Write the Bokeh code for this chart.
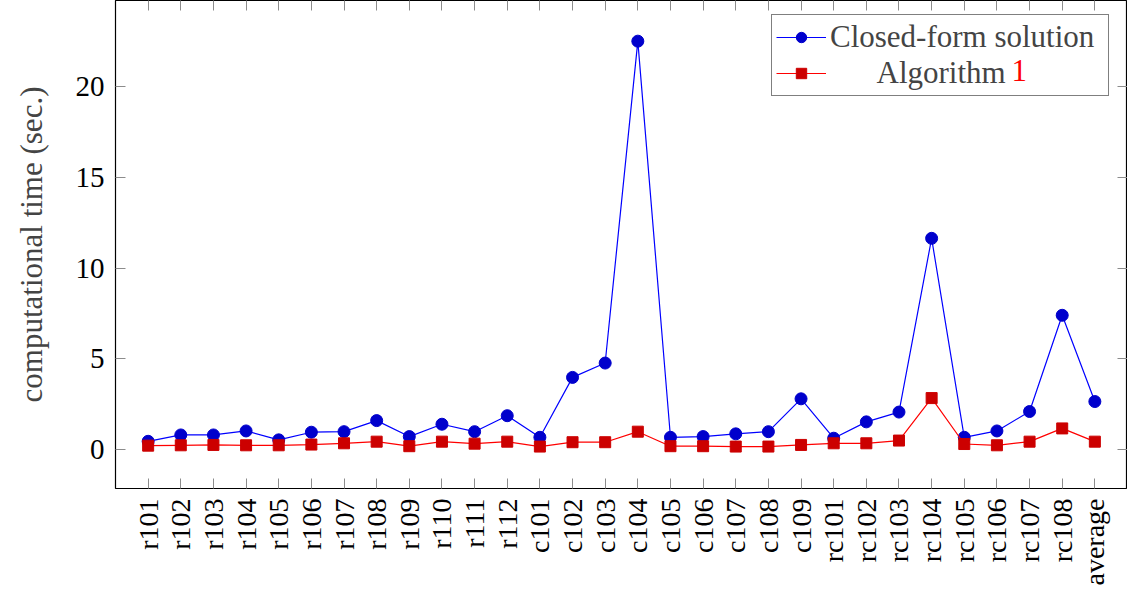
import numpy as np
from bokeh.plotting import figure
from bokeh.models import Range1d, FixedTicker, LinearAxis, Legend, LegendItem, Label
from bokeh.embed import file_html
from bokeh.resources import INLINE

categories = ["r101", "r102", "r103", "r104", "r105", "r106", "r107", "r108", "r109",
              "r110", "r111", "r112", "c101", "c102", "c103", "c104", "c105", "c106",
              "c107", "c108", "c109", "rc101", "rc102", "rc103", "rc104", "rc105",
              "rc106", "rc107", "rc108", "average"]
closed_form = [0.46, 0.81, 0.81, 1.03, 0.54, 0.96, 0.99, 1.60, 0.72, 1.40, 0.99, 1.87,
               0.68, 3.98, 4.77, 22.5, 0.68, 0.72, 0.87, 0.99, 2.80,
               0.63, 1.53, 2.07, 11.64, 0.68, 1.03, 2.10, 7.40, 2.65]
algorithm = [0.22, 0.24, 0.26, 0.24, 0.24, 0.28, 0.35, 0.44, 0.19, 0.44, 0.33, 0.44,
             0.17, 0.41, 0.41, 0.99, 0.19, 0.19, 0.17, 0.17, 0.26,
             0.35, 0.35, 0.50, 2.84, 0.31, 0.24, 0.44, 1.17, 0.44]
y_ticks = [0, 5, 10, 15, 20]
series_names = ["Closed-form solution", "Algorithm"]
ref_number = "1"

FONT = "Liberation Serif"
TICK_COLOR = "#8c8c8c"

xs = list(range(len(categories)))

p = figure(width=1127, height=588, output_backend="svg", toolbar_location=None,
           x_range=Range1d(-1, len(categories)), y_range=Range1d(-2.14, 24.74),
           min_border_left=115, min_border_right=0, min_border_top=0, min_border_bottom=0)

p.grid.visible = False
p.outline_line_color = "black"
p.outline_line_width = 1.2
p.background_fill_color = "white"
p.border_fill_color = "white"

l1 = p.line(xs, closed_form, line_color="#0000ff", line_width=1.2)
s1 = p.scatter(xs, closed_form, marker="circle", size=12, fill_color="#0000cc",
               line_color="#0000cc")
l2 = p.line(xs, algorithm, line_color="#ff0000", line_width=1.2)
s2 = p.scatter(xs, algorithm, marker="square", size=11, fill_color="#cc0000",
               line_color="#cc0000")

xt = FixedTicker(ticks=xs)
yt = FixedTicker(ticks=y_ticks)

def style_axis(ax, size="0px", standoff=0):
    ax.axis_line_color = None
    ax.major_tick_in = 10
    ax.major_tick_out = 0
    ax.major_tick_line_color = TICK_COLOR
    ax.major_tick_line_width = 1
    ax.minor_tick_line_color = None
    ax.major_label_text_font = FONT
    ax.major_label_text_font_size = size
    ax.major_label_standoff = standoff
    ax.major_label_text_color = "black"

p.xaxis.ticker = xt
p.xaxis.major_label_overrides = {i: c for i, c in enumerate(categories)}
p.xaxis.major_label_orientation = np.pi / 2
style_axis(p.xaxis[0], "28px", 10)

p.yaxis.ticker = yt
style_axis(p.yaxis[0], "29px", 11)
p.yaxis.axis_label = "computational time (sec.)"
p.yaxis.axis_label_text_font = FONT
p.yaxis.axis_label_text_font_size = "31px"
p.yaxis.axis_label_text_font_style = "normal"
p.yaxis.axis_label_standoff = 24

top_ax = LinearAxis(ticker=xt)
style_axis(top_ax)
top_ax.major_label_overrides = {i: "" for i in xs}
p.add_layout(top_ax, "above")

right_ax = LinearAxis(ticker=yt)
style_axis(right_ax)
right_ax.major_label_overrides = {t: "" for t in y_ticks}
p.add_layout(right_ax, "right")

legend = Legend(items=[LegendItem(label=series_names[0], renderers=[l1, s1]),
                       LegendItem(label="\u00a0" * 6 + series_names[1],
                                  renderers=[l2, s2])],
                location=(656, 392))
legend.label_text_font = FONT
legend.label_text_font_size = "31px"
legend.border_line_color = "black"
legend.border_line_width = 1.2
legend.background_fill_alpha = 0
legend.glyph_width = 50
legend.glyph_height = 26
legend.label_height = 26
legend.label_width = 274
legend.label_standoff = 4
legend.spacing = 0
legend.padding = 4
legend.margin = 0
p.add_layout(legend)

one = Label(x=26.45, y=20.86, text=ref_number, text_font=FONT, text_font_size="31px",
            text_color="#ff0000", text_baseline="middle", level="overlay")
p.add_layout(one)

open("out.html", "w").write(file_html(p, INLINE))
